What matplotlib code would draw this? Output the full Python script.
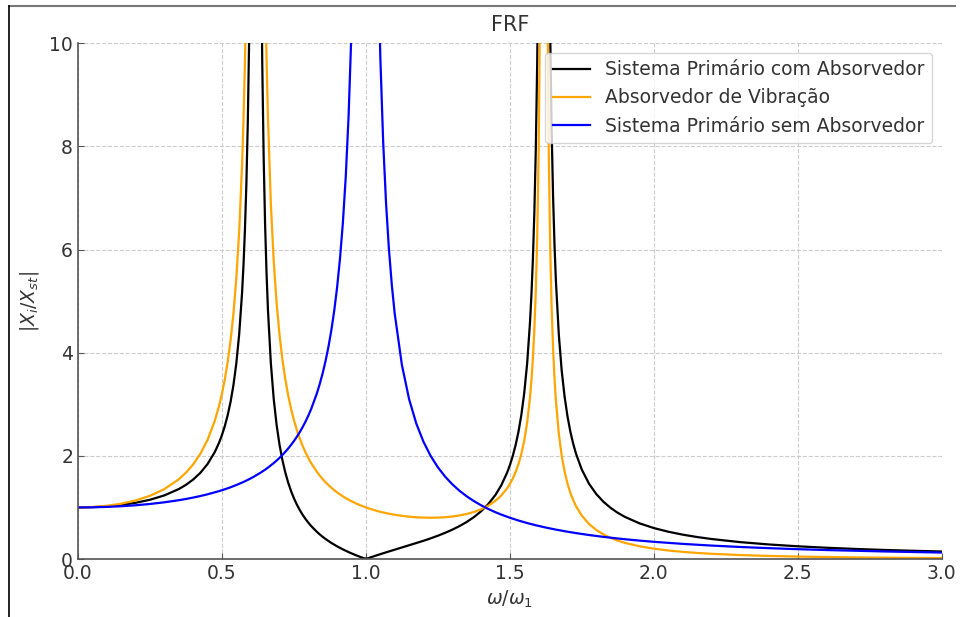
import numpy as np
import matplotlib
matplotlib.use("Agg")
import matplotlib.pyplot as plt
from matplotlib.lines import Line2D

# frequency ratio w/w1 (denser near the peaks)
w_ratio = [0.0, 0.05, 0.1, 0.15, 0.2, 0.25, 0.3, 0.35, 0.375, 0.4, 0.425, 0.45, 0.475, 0.49,
           0.5, 0.51, 0.52, 0.53, 0.54, 0.55, 0.56, 0.57, 0.575, 0.58, 0.585, 0.59, 0.595,
           0.60, 0.605, 0.61, 0.625, 0.63, 0.635, 0.64, 0.645, 0.65, 0.655, 0.66, 0.67, 0.68, 0.69,
           0.70, 0.71, 0.72, 0.73, 0.74, 0.75, 0.76, 0.77, 0.78, 0.79,
           0.80, 0.81, 0.83, 0.84, 0.85, 0.86, 0.87, 0.88, 0.89,
           0.90, 0.91, 0.92, 0.93, 0.94, 0.95, 0.96, 0.97, 0.98, 0.995,
           1.005, 1.02, 1.03, 1.04, 1.05, 1.06, 1.07, 1.08, 1.09,
           1.10, 1.125, 1.15, 1.175, 1.20, 1.225, 1.25, 1.275, 1.30, 1.325, 1.35, 1.375,
           1.40, 1.425, 1.45, 1.47, 1.49,
           1.50, 1.51, 1.52, 1.53, 1.54, 1.55, 1.56, 1.57, 1.575, 1.58, 1.585, 1.59, 1.595,
           1.60, 1.605, 1.61, 1.625, 1.63, 1.635, 1.64, 1.645, 1.65, 1.655, 1.66, 1.67, 1.68, 1.69,
           1.70, 1.71, 1.72, 1.73, 1.75, 1.775,
           1.80, 1.825, 1.85, 1.875, 1.90, 1.95,
           2.0, 2.05, 2.1, 2.15, 2.2, 2.3, 2.4, 2.5, 2.6, 2.7, 2.8, 2.9, 3.0]

# Sistema Primario com Absorvedor
primario_com = [1.0, 1.0050, 1.0205, 1.0477, 1.0889, 1.1483, 1.2329, 1.3552, 1.4373, 1.5396, 1.6696, 1.8397, 2.0703, 2.2526,
                2.4, 2.5749, 2.7856, 3.0444, 3.3696, 3.7906, 4.3568, 5.1589, 5.6998, 6.3829, 7.2728, 8.4811, 10.212,
                12.903, 17.660, 28.337, 31.595, 18.182, 12.675, 9.6743, 7.7865, 6.4892, 5.5428, 4.8218, 3.7957, 3.1006, 2.5983,
                2.2184, 1.9207, 1.6812, 1.4842, 1.3192, 1.1790, 1.0582, 0.9530, 0.8606, 0.7786,
                0.7053, 0.6394, 0.5254, 0.4757, 0.4299, 0.3876, 0.3484, 0.3118, 0.2776,
                0.2455, 0.2153, 0.1867, 0.1596, 0.1338, 0.1092, 0.0856, 0.0631, 0.0413, 0.0101,
                0.0099, 0.0389, 0.0576, 0.0759, 0.0939, 0.1115, 0.1289, 0.1461, 0.1632,
                0.1801, 0.2223, 0.2647, 0.3080, 0.3530, 0.4005, 0.4514, 0.5069, 0.5684, 0.6378, 0.7177, 0.8116,
                0.9245, 1.0642, 1.2430, 1.4276, 1.6681,
                1.8182, 1.9957, 2.2088, 2.4699, 2.7974, 3.2205, 3.7887, 4.5926, 5.1344, 5.8183, 6.7091, 7.9172, 9.6494,
                12.342, 17.099, 27.777, 32.153, 18.739, 13.232, 10.231, 8.3426, 7.0448, 6.0979, 5.3765, 4.3498, 3.6540, 3.1512,
                2.7709, 2.4729, 2.2332, 2.0362, 1.7312, 1.4585,
                1.2601, 1.1092, 0.9904, 0.8944, 0.8151, 0.6917,
                0.6, 0.5290, 0.4724, 0.4262, 0.3877, 0.3271, 0.2817, 0.2463, 0.2180, 0.1949, 0.1756, 0.1594, 0.1455]

# Absorvedor de Vibracao
absorvedor = [1.0, 1.0076, 1.0308, 1.0718, 1.1343, 1.2249, 1.3548, 1.5444, 1.6725, 1.8328, 2.0377, 2.3068, 2.6736, 2.9643,
              3.2, 3.4801, 3.8180, 4.2336, 4.7567, 5.4346, 6.3474, 7.6417, 8.5151, 9.6186, 11.057, 13.008, 15.808,
              20.161, 27.856, 45.130, 51.848, 30.147, 21.238, 16.386, 13.334, 11.237, 9.7076, 8.5432, 6.8876, 5.7675, 4.9596,
              4.3497, 3.8732, 3.4909, 3.1775, 2.9160, 2.6947, 2.5052, 2.3410, 2.1976, 2.0713,
              1.9593, 1.8593, 1.6889, 1.6157, 1.5492, 1.4886, 1.4331, 1.3822, 1.3353,
              1.2922, 1.2523, 1.2154, 1.1811, 1.1494, 1.1198, 1.0924, 1.0668, 1.0429, 1.0102,
              0.9902, 0.9627, 0.9459, 0.9303, 0.9158, 0.9023, 0.8898, 0.8782, 0.8675,
              0.8577, 0.8368, 0.8207, 0.8092, 0.8023, 0.8000, 0.8025, 0.8102, 0.8238, 0.8441, 0.8726, 0.9112,
              0.9630, 1.0326, 1.1274, 1.2297, 1.3671,
              1.4545, 1.5590, 1.6856, 1.8420, 2.0395, 2.2962, 2.6428, 3.1351, 3.4677, 3.8882, 4.4366, 5.1811, 6.2495,
              7.9114, 10.850, 17.447, 19.598, 11.310, 7.9078, 6.0552, 4.8901, 4.0899, 3.5065, 3.0625, 2.4315, 2.0051, 1.6978,
              1.4661, 1.2853, 1.1403, 1.0217, 0.8393, 0.6782,
              0.5626, 0.4759, 0.4088, 0.3555, 0.3123, 0.2468,
              0.2, 0.1652, 0.1385, 0.1176, 0.1010, 0.0763, 0.0592, 0.0469, 0.0379, 0.0310, 0.0257, 0.0215, 0.0182]

# Sistema Primario sem Absorvedor
primario_sem = [1.0, 1.0025, 1.0101, 1.0230, 1.0417, 1.0667, 1.0989, 1.1396, 1.1636, 1.1905, 1.2205, 1.2539, 1.2914, 1.3160,
                1.3333, 1.3515, 1.3706, 1.3906, 1.4116, 1.4337, 1.4569, 1.4813, 1.4939, 1.5069, 1.5203, 1.5340, 1.5481,
                1.5625, 1.5774, 1.5926, 1.6410, 1.6581, 1.6757, 1.6938, 1.7124, 1.7316, 1.7514, 1.7718, 1.8146, 1.8601, 1.9088,
                1.9608, 2.0165, 2.0764, 2.1409, 2.2104, 2.2857, 2.3674, 2.4564, 2.5536, 2.6603,
                2.7778, 2.9078, 3.2144, 3.3967, 3.6036, 3.8403, 4.1135, 4.4326, 4.8100,
                5.2632, 5.8173, 6.5104, 7.4019, 8.5911, 10.256, 12.755, 16.920, 25.253, 100.25,
                99.75, 24.753, 16.420, 12.255, 9.7561, 8.0906, 6.9013, 6.0096, 5.3163,
                4.7619, 3.7647, 3.1008, 2.6273, 2.2727, 1.9975, 1.7778, 1.5984, 1.4493, 1.3234, 1.2158, 1.1228,
                1.0417, 0.9703, 0.9070, 0.8614, 0.8196,
                0.8000, 0.7812, 0.7631, 0.7458, 0.7291, 0.7130, 0.6975, 0.6826, 0.6754, 0.6683, 0.6613, 0.6544, 0.6477,
                0.6410, 0.6345, 0.6281, 0.6095, 0.6035, 0.5977, 0.5919, 0.5862, 0.5806, 0.5750, 0.5696, 0.5590, 0.5487, 0.5388,
                0.5291, 0.5197, 0.5106, 0.5018, 0.4848, 0.4650,
                0.4464, 0.4291, 0.4128, 0.3975, 0.3831, 0.3568,
                0.3333, 0.3123, 0.2933, 0.2761, 0.2604, 0.2331, 0.2101, 0.1905, 0.1736, 0.1590, 0.1462, 0.1350, 0.125]

labels = ['Sistema Primário com Absorvedor', 'Absorvedor de Vibração', 'Sistema Primário sem Absorvedor']

fig = plt.figure(figsize=(9.62, 6.17), dpi=100)
ax = fig.add_axes([0.081, 0.094, 0.898, 0.836])

ax.plot(w_ratio, primario_com, color='black', lw=1.6, label=labels[0])
ax.plot(w_ratio, absorvedor, color='orange', lw=1.6, label=labels[1])
ax.plot(w_ratio, primario_sem, color='blue', lw=1.6, label=labels[2])

ax.set_xlim(0, 3)
ax.set_ylim(0, 10)
ax.set_xticks(np.arange(0, 3.01, 0.5))
ax.set_yticks(np.arange(0, 10.1, 2))

ax.set_title('FRF', fontsize=15, color='#333333', pad=9)
ax.set_xlabel(r'$\omega/\omega_1$', fontsize=13.5, color='#333333')
ax.set_ylabel(r'$|X_i/X_{st}|$', fontsize=13.5, color='#333333', labelpad=6)

ax.grid(True, linestyle='--', color='#cccccc', linewidth=0.8)
for s in ['top', 'right']:
    ax.spines[s].set_visible(False)
for s in ['left', 'bottom']:
    ax.spines[s].set_color('#555555')
    ax.spines[s].set_linewidth(1.2)
ax.tick_params(direction='in', length=4, color='#555555', labelcolor='#333333', labelsize=13.5)

leg = ax.legend(loc='upper right', fontsize=13.5, framealpha=0.8)
for t in leg.get_texts():
    t.set_color('#333333')

# screenshot frame around the figure
fig.add_artist(Line2D([0.0095, 0.993], [0.991, 0.991], transform=fig.transFigure, color='#777777', lw=1.5))
fig.add_artist(Line2D([0.0095, 0.0095], [0.0, 0.991], transform=fig.transFigure, color='black', lw=1.2))

fig.savefig('out.png', dpi=100)
